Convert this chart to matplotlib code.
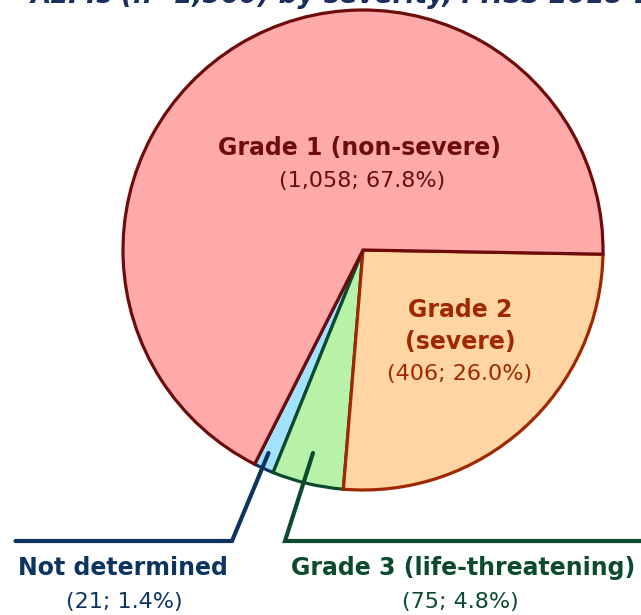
import matplotlib.pyplot as plt

# Data
labels = ['Grade 1 (non-severe)', 'Not determined', 'Grade 3 (life-threatening)', 'Grade 2 (severe)']
counts = [1058, 21, 75, 406]
pcts = [67.8, 1.4, 4.8, 26.0]
fills = ['#FFAAAA', '#A3E2FF', '#B8F2A8', '#FFD6A3']
edges = ['#6E0B0B', '#0D3461', '#0B4A2C', '#A02800']
zorders = [5, 2, 3, 4]

W, H = 641, 615

def Y(y):
    # pixel row -> data y
    return H - y

fig = plt.figure(figsize=(W / 100, H / 100), dpi=100)
ax = fig.add_axes([0, 0, 1, 1])
ax.set_xlim(0, W)
ax.set_ylim(0, H)
ax.set_aspect('equal')
ax.set_axis_off()

fam = ['DejaVu Sans']
fs = 17

wedges, _ = ax.pie(counts, startangle=-1, counterclock=True,
                   center=(363, Y(250)), radius=240, colors=fills,
                   wedgeprops=dict(linewidth=2.3))
for w, ec, z in zip(wedges, edges, zorders):
    w.set_edgecolor(ec)
    w.set_zorder(z)
ax.set_xlim(0, W)
ax.set_ylim(0, H)

# title (cut off at the top)
ax.text(31, Y(3), 'AEFIs (n=1,560) by severity, PHSS 2018-19', fontsize=19,
        fontweight='bold', style='italic', color='#1B2F5E', family=fam,
        va='baseline', ha='left')

# in-slice labels
ax.text(360, Y(148), labels[0], fontsize=fs, fontweight='bold', color=edges[0],
        ha='center', va='center', family=fam, zorder=10)
ax.text(362, Y(181), '(%s; %.1f%%)' % (format(counts[0], ','), pcts[0]), fontsize=fs - 1,
        color=edges[0], ha='center', va='center', family=fam, zorder=10)

ax.text(460, Y(310), 'Grade 2', fontsize=fs, fontweight='bold', color=edges[3],
        ha='center', va='center', family=fam, zorder=10)
ax.text(460, Y(342), '(severe)', fontsize=fs, fontweight='bold', color=edges[3],
        ha='center', va='center', family=fam, zorder=10)
ax.text(460, Y(374), '(%d; %.1f%%)' % (counts[3], pcts[3]), fontsize=fs - 1,
        color=edges[3], ha='center', va='center', family=fam, zorder=10)

# leader lines
ax.plot([268.5, 232, 15.5], [Y(453), Y(541), Y(541)], color=edges[1], lw=3,
        solid_capstyle='round', solid_joinstyle='miter', zorder=10)
ax.plot([313, 285, 641], [Y(453), Y(541), Y(541)], color=edges[2], lw=3,
        solid_capstyle='round', solid_joinstyle='miter', zorder=10)

# outside labels
ax.text(123, Y(568), labels[1], fontsize=fs, fontweight='bold', color=edges[1],
        ha='center', va='center', family=fam)
ax.text(124, Y(602), '(%d; %.1f%%)' % (counts[1], pcts[1]), fontsize=fs - 1,
        color=edges[1], ha='center', va='center', family=fam)
ax.text(463, Y(568), labels[2], fontsize=fs, fontweight='bold', color=edges[2],
        ha='center', va='center', family=fam)
ax.text(460, Y(602), '(%d; %.1f%%)' % (counts[2], pcts[2]), fontsize=fs - 1,
        color=edges[2], ha='center', va='center', family=fam)

fig.savefig('out.png', dpi=100)
